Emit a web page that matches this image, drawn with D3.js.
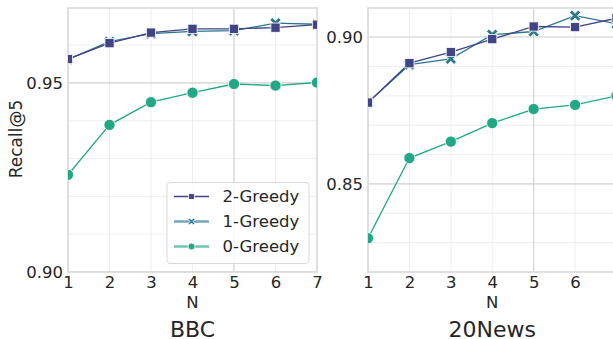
<!DOCTYPE html>
<html>
<head>
<meta charset="utf-8">
<script src="https://cdn.jsdelivr.net/npm/d3@7"></script>
<style>
  html, body { margin: 0; padding: 0; background: #fff; }
  svg { display: block; font-family: "DejaVu Sans", sans-serif; }
</style>
</head>
<body>
<svg id="chart" width="613" height="339"></svg>
<script>
// N values on the x axis
const nValues = [1, 2, 3, 4, 5, 6, 7];
const xTickLabels = ["1", "2", "3", "4", "5", "6", "7"];

// Recall@5 on BBC
const bbcGreedy2 = [0.9563, 0.9605, 0.9633, 0.9643, 0.9643, 0.9646, 0.9654];
const bbcGreedy1 = [0.9562, 0.9609, 0.9630, 0.9636, 0.9638, 0.9658, 0.9655];
const bbcGreedy0 = [0.9257, 0.9389, 0.9449, 0.9474, 0.9497, 0.9493, 0.9501];

// Recall@5 on 20News
const newsGreedy2 = [0.8777, 0.8911, 0.8949, 0.8993, 0.9036, 0.9034, 0.9064];
const newsGreedy1 = [0.8777, 0.8906, 0.8926, 0.9008, 0.9019, 0.9073, 0.9045];
const newsGreedy0 = [0.8315, 0.8588, 0.8644, 0.8707, 0.8755, 0.8769, 0.8800];

const seriesNames = ["2-Greedy", "1-Greedy", "0-Greedy"];
const seriesColors = ["#414487", "#2a788e", "#22a884"];
const seriesMarkers = ["square", "x", "circle"];

const bbcYTicks = [0.90, 0.95];
const newsYTicks = [0.85, 0.90];

const W = 613;
const svg = d3.select("#chart");
const textColor = "#262626";
const tickFont = 16.5;

// Filled "X" marker path centred on 0,0
function xMarkerPath(r) {
  const w = r * 0.42;
  const pts = [
    [-r + w, -r], [0, -w], [r - w, -r], [r, -r + w], [w, 0], [r, r - w],
    [r - w, r], [0, w], [-r + w, r], [-r, r - w], [-w, 0], [-r, -r + w]
  ];
  return "M" + pts.map(p => p.join(",")).join("L") + "Z";
}

function drawMarker(g, type, color, x, y, scale) {
  const s = scale || 1;
  if (type === "square") {
    g.append("rect").attr("x", x - 4.6 * s).attr("y", y - 4.6 * s)
      .attr("width", 9.2 * s).attr("height", 9.2 * s)
      .attr("fill", color).attr("stroke", "#fff").attr("stroke-width", 0.8);
  } else if (type === "x") {
    g.append("path").attr("d", xMarkerPath(5.6 * s))
      .attr("transform", `translate(${x},${y})`)
      .attr("fill", color).attr("stroke", "#fff").attr("stroke-width", 0.8);
  } else {
    g.append("circle").attr("cx", x).attr("cy", y).attr("r", 5.6 * s)
      .attr("fill", color).attr("stroke", "#fff").attr("stroke-width", 0.8);
  }
}

function panel(cfg) {
  const x = d3.scaleLinear().domain([1, 7]).range([cfg.left, cfg.right]);
  const y = d3.scaleLinear().domain(cfg.yDomain).range([cfg.bottom, cfg.top]);
  const g = svg.append("g");

  const clipId = "clip-" + cfg.id;
  svg.append("clipPath").attr("id", clipId)
    .append("rect").attr("x", cfg.left).attr("y", cfg.top)
    .attr("width", cfg.right - cfg.left).attr("height", cfg.bottom - cfg.top);

  // minor grid
  const minorY = d3.range(Math.ceil(cfg.yDomain[0] * 100), Math.floor(cfg.yDomain[1] * 100) + 1)
    .map(v => v / 100);
  const grid = g.append("g").attr("clip-path", `url(#${clipId})`);
  grid.selectAll(".hy").data(minorY).join("line")
    .attr("x1", cfg.left).attr("x2", cfg.right)
    .attr("y1", d => y(d)).attr("y2", d => y(d))
    .attr("stroke", "#ececec").attr("stroke-width", 0.9);
  grid.selectAll(".vx").data(nValues).join("line")
    .attr("x1", d => x(d)).attr("x2", d => x(d))
    .attr("y1", cfg.top).attr("y2", cfg.bottom)
    .attr("stroke", "#ececec").attr("stroke-width", 0.9);
  // major grid
  grid.selectAll(".my").data(cfg.yTicks).join("line")
    .attr("x1", cfg.left).attr("x2", cfg.right)
    .attr("y1", d => y(d)).attr("y2", d => y(d))
    .attr("stroke", "#d4d4d4").attr("stroke-width", 1.1);
  grid.append("line")
    .attr("x1", x(5)).attr("x2", x(5))
    .attr("y1", cfg.top).attr("y2", cfg.bottom)
    .attr("stroke", "#d4d4d4").attr("stroke-width", 1.1);

  // spines
  g.append("rect").attr("x", cfg.left).attr("y", cfg.top)
    .attr("width", cfg.right - cfg.left).attr("height", cfg.bottom - cfg.top)
    .attr("fill", "none").attr("stroke", "#d9d9d9").attr("stroke-width", 1.6);

  // series lines and markers (drawn 0 -> 2 so 2-Greedy sits on top)
  const data = cfg.series;
  const plot = g.append("g").attr("clip-path", `url(#${clipId})`);
  const line = d3.line().x((d, i) => x(nValues[i])).y(d => y(d));
  [2, 1, 0].forEach(k => {
    plot.append("path").datum(data[k]).attr("d", line)
      .attr("fill", "none").attr("stroke", seriesColors[k]).attr("stroke-width", 1.3);
    data[k].forEach((v, i) => drawMarker(plot, seriesMarkers[k], seriesColors[k], x(nValues[i]), y(v)));
  });

  // axes (tick labels only; ticks that fall past the figure edge are left out)
  const shownX = nValues.filter(n => x(n) <= W);
  const xAxis = d3.axisBottom(x).tickValues(shownX)
    .tickFormat(d => xTickLabels[nValues.indexOf(d)])
    .tickSize(0).tickPadding(4);
  const xa = g.append("g").attr("transform", `translate(0,${cfg.bottom})`).call(xAxis);
  xa.select(".domain").remove();
  xa.selectAll("text").attr("font-size", tickFont).attr("fill", textColor)
    .attr("font-family", "DejaVu Sans");

  const yAxis = d3.axisLeft(y).tickValues(cfg.yTicks).tickFormat(d3.format(".2f"))
    .tickSize(0).tickPadding(5);
  const ya = g.append("g").attr("transform", `translate(${cfg.left},0)`).call(yAxis);
  ya.select(".domain").remove();
  ya.selectAll("text").attr("font-size", tickFont).attr("fill", textColor)
    .attr("font-family", "DejaVu Sans");

  const cx = (cfg.left + cfg.right) / 2;
  g.append("text").attr("x", cx).attr("y", 308).attr("text-anchor", "middle")
    .attr("font-size", 16.5).attr("fill", textColor).text("N");
  g.append("text").attr("x", cx).attr("y", 336.5).attr("text-anchor", "middle")
    .attr("font-size", 22).attr("fill", textColor).text(cfg.title);
}

panel({
  id: "bbc", left: 68, right: 317, top: 8, bottom: 272,
  yDomain: [0.90, 0.9698], yTicks: bbcYTicks, title: "BBC",
  series: [bbcGreedy2, bbcGreedy1, bbcGreedy0]
});
panel({
  id: "news", left: 368, right: 616.5, top: 8, bottom: 272,
  yDomain: [0.82, 0.9099], yTicks: newsYTicks, title: "20News",
  series: [newsGreedy2, newsGreedy1, newsGreedy0]
});

// y axis title
svg.append("text").attr("transform", "translate(22,139) rotate(-90)")
  .attr("text-anchor", "middle").attr("font-size", 17).attr("fill", textColor)
  .text("Recall@5");

// legend in the BBC panel
const lg = svg.append("g").attr("transform", "translate(167,182.5)");
lg.append("rect").attr("x", 0).attr("y", 0).attr("width", 142).attr("height", 81)
  .attr("rx", 3).attr("fill", "#fff").attr("fill-opacity", 0.85)
  .attr("stroke", "#d9d9d9").attr("stroke-width", 1);
seriesNames.forEach((name, i) => {
  const yy = 14 + i * 25;
  lg.append("line").attr("x1", 7).attr("x2", 42).attr("y1", yy).attr("y2", yy)
    .attr("stroke", seriesColors[i]).attr("stroke-width", i === 0 ? 1.3 : 2.4)
    .attr("stroke-opacity", i === 0 ? 1 : 0.65);
  drawMarker(lg, seriesMarkers[i], seriesColors[i], 24.5, yy, 0.62);
  lg.append("text").attr("x", 55.5).attr("y", yy).attr("dy", "0.36em")
    .attr("font-size", 16.5).attr("fill", textColor).text(name);
});
</script>
</body>
</html>
